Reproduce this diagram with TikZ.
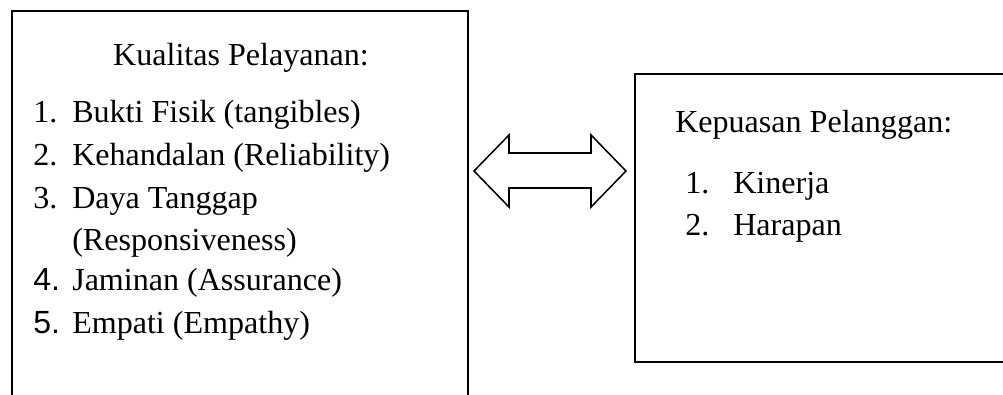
\documentclass[tikz,border=0pt]{standalone}
\usepackage{fontspec}
\setmainfont{Liberation Serif}
\newfontfamily\numsans{Liberation Sans}
\usetikzlibrary{positioning}

\begin{document}
\begin{tikzpicture}[
    x=0.025cm, y=-0.025cm,
    box/.style={draw, line width=1.4pt, rectangle, inner sep=0pt},
    txt/.style={anchor=base west, inner sep=0pt, font=\fontsize{22.8}{28}\selectfont},
    head/.style={anchor=base, inner sep=0pt, font=\fontsize{22.8}{28}\selectfont}
]
    \useasboundingbox (0,0) rectangle (1003,394);

    % Boxes
    \node[box, minimum width=11.4cm, minimum height=10.25cm] (kualitas) at (240,216) {};
    \node[box, minimum width=9.4cm, minimum height=7.2cm] (kepuasan) at (823,218) {};

    % Two-way arrow between the boxes
    \coordinate (link) at (550,171);
    \draw[line width=1.1pt, line join=miter] (link) ++(-76,0) -- ++(35,-36) -- ++(0,18) -- ++(82,0)
        -- ++(0,-18) -- ++(35,36) -- ++(-35,36) -- ++(0,-19) -- ++(-82,0) -- ++(0,19) -- cycle;

    % Left box text
    \node[head] (kTitle) at (241,65) {Kualitas Pelayanan:};
    \node[txt] (k1n) at (33,122) {1.};
    \node[txt] (k1) at (72,122) {Bukti Fisik (tangibles)};
    \node[txt] (k2n) at (33,165) {2.};
    \node[txt] (k2) at (72,165) {Kehandalan (Reliability)};
    \node[txt] (k3n) at (33,208) {3.};
    \node[txt] (k3) at (72,208) {Daya Tanggap};
    \node[txt] (k3b) at (72,250) {(Responsiveness)};
    \node[txt] (k4n) at (33,290) {\numsans 4.};
    \node[txt] (k4) at (72,290) {Jaminan (Assurance)};
    \node[txt] (k5n) at (33,333) {\numsans 5.};
    \node[txt] (k5) at (72,333) {Empati (Empathy)};

    % Right box text
    \node[txt] (pTitle) at (675,132) {Kepuasan Pelanggan:};
    \node[txt] (p1n) at (685,193) {1.};
    \node[txt] (p1) at (733,193) {Kinerja};
    \node[txt] (p2n) at (685,235) {2.};
    \node[txt] (p2) at (733,235) {Harapan};
\end{tikzpicture}
\end{document}
